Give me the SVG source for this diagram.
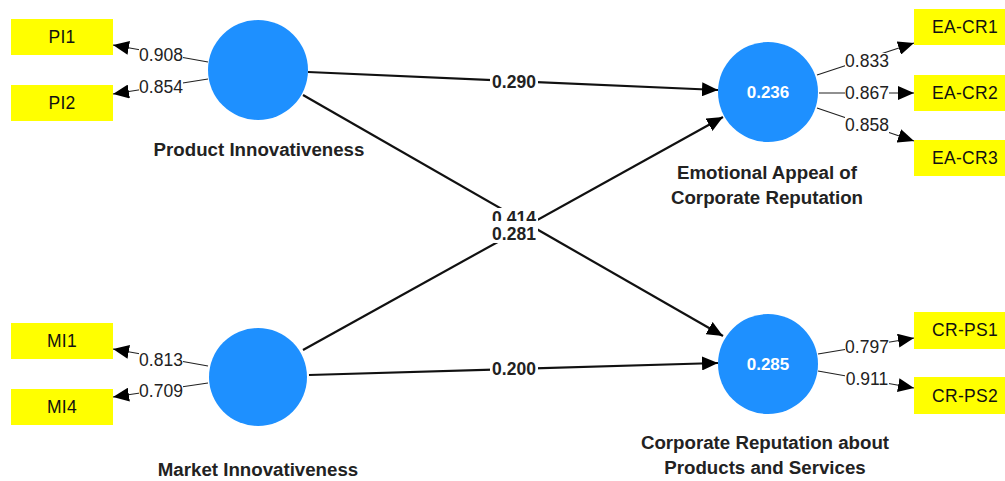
<svg xmlns="http://www.w3.org/2000/svg" width="1005" height="481" viewBox="0 0 1005 481">
<style>
text{font-family:"Liberation Sans",Arial,sans-serif;}
.lv{fill:#1E90FF;}
.ind{fill:#FFFF00;}
.indt{font-size:17.5px;fill:#111;text-anchor:middle;letter-spacing:0.3px;}
.name{font-size:18.7px;font-weight:bold;fill:#222;text-anchor:middle;}
.r2{font-size:17px;font-weight:bold;fill:#fff;text-anchor:middle;}
.ld{stroke:#222;stroke-width:1.2;fill:none;marker-end:url(#ah);}
.pc{stroke:#111;stroke-width:2.2;fill:none;marker-end:url(#ah);}
.ldt{font-size:17.5px;fill:#222;text-anchor:middle;}
.pct{font-size:17.5px;font-weight:bold;fill:#222;text-anchor:middle;}
.bg{fill:#fff;}
</style>
<defs>
<marker id="ah" markerUnits="userSpaceOnUse" markerWidth="17" markerHeight="14" refX="16" refY="7" orient="auto">
<path d="M0,0 L16,7 L0,14 Z" fill="#000"/>
</marker>
</defs>
<g id="connectors">
<line class="pc" x1="308" y1="72" x2="718" y2="90"/>
<line class="pc" x1="303" y1="95" x2="723" y2="336"/>
<line class="pc" x1="303" y1="350" x2="723" y2="117"/>
<line class="pc" x1="309" y1="375" x2="718" y2="363"/>
<rect class="bg" x="490" y="72" width="48" height="18"/>
<text class="pct" x="514" y="88">0.290</text>
<rect class="bg" x="490" y="208" width="48" height="14"/>
<text class="pct" x="514" y="224">0.414</text>
<rect class="bg" x="490" y="221" width="48" height="22"/>
<text class="pct" x="514" y="240">0.281</text>
<rect class="bg" x="490" y="360" width="48" height="18"/>
<text class="pct" x="514" y="375">0.200</text>
<line class="ld" x1="208" y1="62" x2="113" y2="45"/>
<line class="ld" x1="208" y1="79" x2="113" y2="94"/>
<line class="ld" x1="208" y1="366" x2="113" y2="349"/>
<line class="ld" x1="208" y1="383" x2="113" y2="397"/>
<line class="ld" x1="817" y1="75" x2="914" y2="43"/>
<line class="ld" x1="819" y1="93" x2="914" y2="93"/>
<line class="ld" x1="817" y1="108" x2="914" y2="141"/>
<line class="ld" x1="818" y1="354" x2="914" y2="338"/>
<line class="ld" x1="818" y1="371" x2="914" y2="388"/>
<rect class="bg" x="139" y="47" width="44" height="16"/>
<text class="ldt" x="161" y="61">0.908</text>
<rect class="bg" x="139" y="79" width="44" height="16"/>
<text class="ldt" x="161" y="93">0.854</text>
<rect class="bg" x="139" y="352" width="44" height="16"/>
<text class="ldt" x="161" y="366">0.813</text>
<rect class="bg" x="139" y="383" width="44" height="16"/>
<text class="ldt" x="161" y="397">0.709</text>
<rect class="bg" x="845" y="53" width="44" height="16"/>
<text class="ldt" x="867" y="67">0.833</text>
<rect class="bg" x="845" y="85" width="44" height="16"/>
<text class="ldt" x="867" y="99">0.867</text>
<rect class="bg" x="845" y="117" width="44" height="16"/>
<text class="ldt" x="867" y="131">0.858</text>
<rect class="bg" x="845" y="339" width="44" height="16"/>
<text class="ldt" x="867" y="353">0.797</text>
<rect class="bg" x="845" y="371" width="44" height="16"/>
<text class="ldt" x="867" y="385">0.911</text>
</g>
<g id="PI">
<circle class="lv" cx="258" cy="70" r="50"/>
<text class="name" x="259" y="156">Product Innovativeness</text>
</g>
<g id="MI">
<circle class="lv" cx="258" cy="377" r="49"/>
<text class="name" x="258" y="476">Market Innovativeness</text>
</g>
<g id="EA">
<circle class="lv" cx="768" cy="92" r="50"/>
<text class="r2" x="768" y="98">0.236</text>
<text class="name" x="767" y="179">Emotional Appeal of</text>
<text class="name" x="767" y="204">Corporate Reputation</text>
</g>
<g id="CRPS">
<circle class="lv" cx="768" cy="364" r="50"/>
<text class="r2" x="768" y="370">0.285</text>
<text class="name" x="765" y="449">Corporate Reputation about</text>
<text class="name" x="765" y="474">Products and Services</text>
</g>
<g id="PI1"><rect class="ind" x="11" y="19" width="102" height="36"/><text class="indt" x="62" y="43">PI1</text></g>
<g id="PI2"><rect class="ind" x="11" y="85" width="102" height="36"/><text class="indt" x="62" y="109">PI2</text></g>
<g id="MI1"><rect class="ind" x="11" y="323" width="102" height="36"/><text class="indt" x="62" y="347">MI1</text></g>
<g id="MI4"><rect class="ind" x="11" y="389" width="102" height="36"/><text class="indt" x="62" y="413">MI4</text></g>
<g id="EA-CR1"><rect class="ind" x="914" y="9" width="102" height="36"/><text class="indt" x="965" y="33">EA-CR1</text></g>
<g id="EA-CR2"><rect class="ind" x="914" y="75" width="102" height="36"/><text class="indt" x="965" y="99">EA-CR2</text></g>
<g id="EA-CR3"><rect class="ind" x="914" y="140" width="102" height="36"/><text class="indt" x="965" y="164">EA-CR3</text></g>
<g id="CR-PS1"><rect class="ind" x="914" y="312" width="102" height="37"/><text class="indt" x="965" y="336">CR-PS1</text></g>
<g id="CR-PS2"><rect class="ind" x="914" y="377" width="102" height="37"/><text class="indt" x="965" y="402">CR-PS2</text></g>
</svg>
